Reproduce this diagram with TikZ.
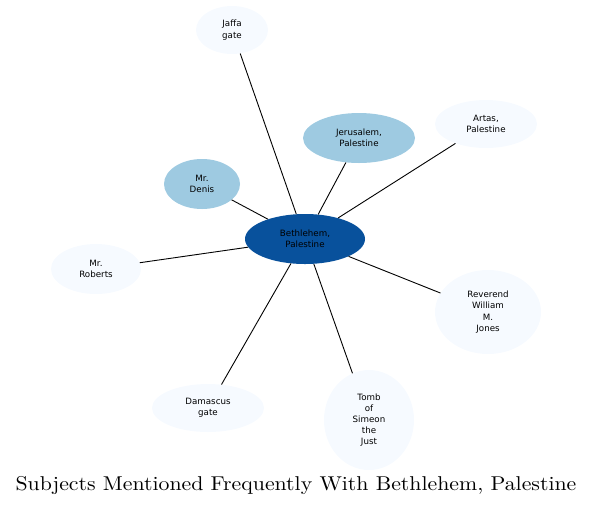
\documentclass[tikz,border=0pt]{standalone}
\usepackage{fontspec}
\newfontfamily\subjfont{DejaVu Sans}
\newfontfamily\titlefont{lmroman10-regular}[Extension=.otf,FakeStretch=1.09]
\usepackage{tikz}
\usetikzlibrary{shapes.geometric}
\definecolor{subjDark}{RGB}{8,81,156}
\definecolor{subjMid}{RGB}{158,202,225}
\definecolor{subjPale}{RGB}{246,250,255}

\begin{document}
\begin{tikzpicture}[x=1pt,y=-1pt,
  subj/.style={ellipse,inner sep=0pt,align=center,
    font=\subjfont\fontsize{8.7}{11.2}\selectfont},
  link/.style={line width=0.9pt,black}]
  \useasboundingbox (0,0) rectangle (593,507);
  % centre
  \node[subj,fill=subjDark,minimum width=120,minimum height=50] (beth) at (305,239) {Bethlehem,\\Palestine};
  % frequent subjects
  \node[subj,fill=subjMid,minimum width=112,minimum height=50] (jerus) at (359,138) {Jerusalem,\\Palestine};
  \node[subj,fill=subjMid,minimum width=76,minimum height=50] (denis) at (202,184) {Mr.\\Denis};
  % rarer subjects
  \node[subj,fill=subjPale,minimum width=72,minimum height=48] (jaffa) at (232,30) {Jaffa\\gate};
  \node[subj,fill=subjPale,minimum width=102,minimum height=48] (artas) at (486,124) {Artas,\\Palestine};
  \node[subj,fill=subjPale,minimum width=90,minimum height=50] (roberts) at (96,269) {Mr.\\Roberts};
  \node[subj,fill=subjPale,minimum width=106,minimum height=84] (jones) at (488,312) {Reverend\\William\\M.\\Jones};
  \node[subj,fill=subjPale,minimum width=90,minimum height=100] (tomb) at (369,420) {Tomb\\of\\Simeon\\the\\Just};
  \node[subj,fill=subjPale,minimum width=112,minimum height=48] (damas) at (208,408) {Damascus\\gate};
  % links
  \foreach \n in {jaffa,jerus,artas,denis,roberts,jones,tomb,damas}
    \draw[link] (beth) -- (\n);
  \node[anchor=base,font=\titlefont\fontsize{20}{22}\selectfont] (title) at (296,490.5) {Subjects Mentioned Frequently With Bethlehem, Palestine};
\end{tikzpicture}
\end{document}
